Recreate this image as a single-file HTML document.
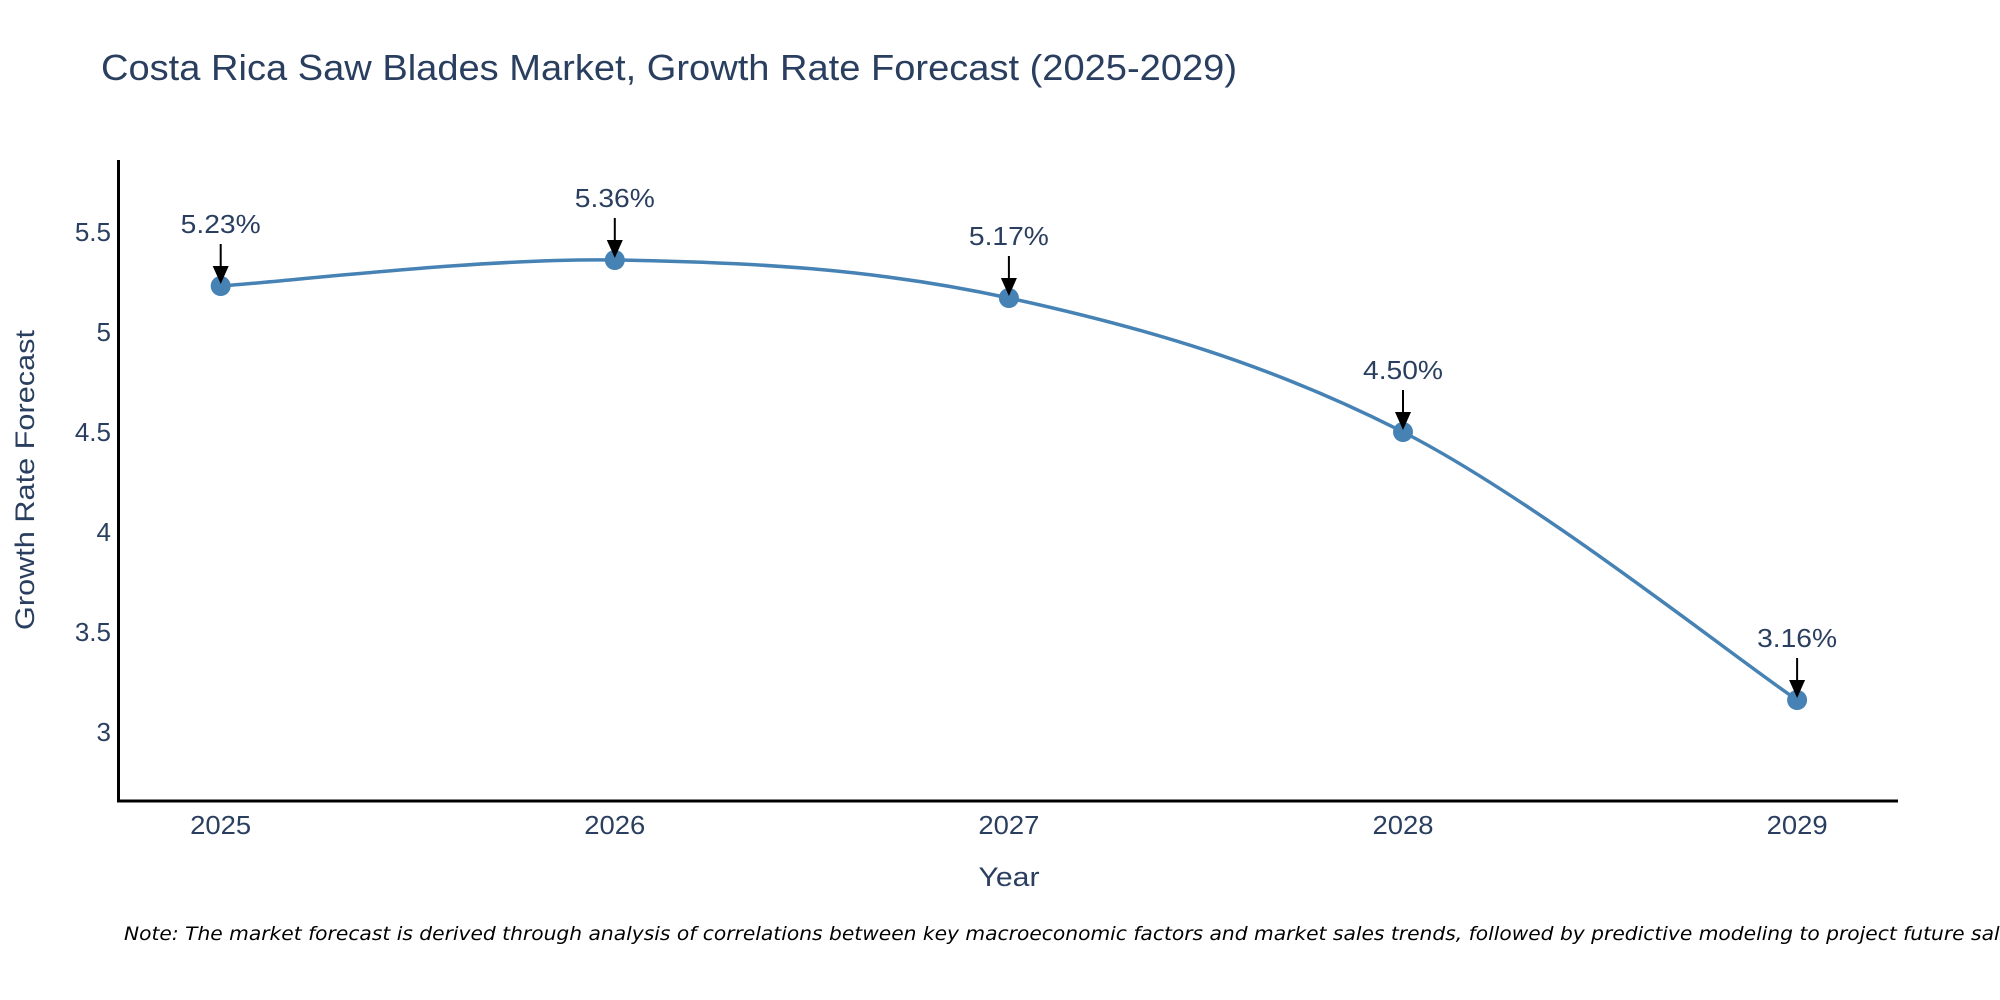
<!DOCTYPE html>
<html><head><meta charset="utf-8"><style>
html,body{margin:0;padding:0;background:#fff;}
svg{display:block;font-family:"Liberation Sans",sans-serif;}
</style></head><body>
<svg id="chart" width="2000" height="1000" viewBox="0 0 2000 1000" xmlns="http://www.w3.org/2000/svg">
<rect width="2000" height="1000" fill="#fff"/>
<text x="101" y="80" font-size="36" fill="#2a3f5f" textLength="1136" lengthAdjust="spacingAndGlyphs">Costa Rica Saw Blades Market, Growth Rate Forecast (2025-2029)</text>
<g id="yticks"></g>
<g id="xticks"></g>
<line x1="118.5" y1="160" x2="118.5" y2="802" stroke="#000" stroke-width="3"/>
<line x1="117" y1="801" x2="1898" y2="801" stroke="#000" stroke-width="3"/>
<text transform="translate(34,480) rotate(-90)" text-anchor="middle" font-size="27" fill="#2a3f5f" textLength="300" lengthAdjust="spacingAndGlyphs">Growth Rate Forecast</text>
<text x="1009" y="886" text-anchor="middle" font-size="27" fill="#2a3f5f" textLength="61" lengthAdjust="spacingAndGlyphs">Year</text>
<path id="line" fill="none" stroke="#4682b4" stroke-width="3.5"/>
<g id="marks"></g>
<g id="annots"></g>
<text x="124" y="940" font-family="'DejaVu Sans',sans-serif" font-style="italic" font-size="19" fill="#000" textLength="1905" lengthAdjust="spacingAndGlyphs">Note: The market forecast is derived through analysis of correlations between key macroeconomic factors and market sales trends, followed by predictive modeling to project future sales.</text>
</svg>
<script>
const years = [2025, 2026, 2027, 2028, 2029];
const growth = [5.23, 5.36, 5.17, 4.50, 3.16];
const yTickValues = [3, 3.5, 4, 4.5, 5, 5.5];
const yTickLabels = ["3", "3.5", "4", "4.5", "5", "5.5"];

const NS = "http://www.w3.org/2000/svg";
function xScale(yr){ return 220.7 + (yr - 2025) * 394.1; }
function yScale(v){ return 732 - (v - 3) * 200; }
function mk(tag, attrs, parent){
  const e = document.createElementNS(NS, tag);
  for (const k in attrs) e.setAttribute(k, attrs[k]);
  parent.appendChild(e);
  return e;
}
const yt = document.getElementById('yticks');
yTickValues.forEach((v, i) => {
  const t = mk('text', {x: 111, y: yScale(v) + 9, 'text-anchor': 'end', 'font-size': 26, fill: '#2a3f5f'}, yt);
  
  
  t.textContent = yTickLabels[i];
});
const xt = document.getElementById('xticks');
years.forEach(yr => {
  const t = mk('text', {x: xScale(yr), y: 834, 'text-anchor': 'middle', 'font-size': 26, fill: '#2a3f5f', textLength: 61, lengthAdjust: 'spacingAndGlyphs'}, xt);
  
  
  t.textContent = String(yr);
});
const pts = years.map((yr, i) => [xScale(yr), yScale(growth[i])]);
let d = 'M' + pts[0][0] + ',' + pts[0][1];
const k = 0.17;
for (let i = 0; i < pts.length - 1; i++) {
  const p0 = pts[Math.max(0, i - 1)], p1 = pts[i], p2 = pts[i + 1], p3 = pts[Math.min(pts.length - 1, i + 2)];
  const c1 = [p1[0] + (p2[0] - p0[0]) * k, p1[1] + (p2[1] - p0[1]) * k];
  const c2 = [p2[0] - (p3[0] - p1[0]) * k, p2[1] - (p3[1] - p1[1]) * k];
  d += ' C' + c1.join(',') + ' ' + c2.join(',') + ' ' + p2.join(',');
}
document.getElementById('line').setAttribute('d', d);
const mg = document.getElementById('marks');
const ag = document.getElementById('annots');
pts.forEach((p, i) => {
  const c = mk('circle', {cx: p[0], cy: p[1], r: 10, fill: '#4682b4'}, mg);
  
  
  const ln = mk('line', {x1: p[0], y1: p[1] - 42, x2: p[0], y2: p[1] - 18, stroke: '#000', 'stroke-width': 2}, ag);
  
  
  const ah = mk('polygon', {points: (p[0]-8)+','+(p[1]-20)+' '+(p[0]+8)+','+(p[1]-20)+' '+p[0]+','+(p[1]-2), fill: '#000'}, ag);
  
  
  const t = mk('text', {x: p[0], y: p[1] - 53, 'text-anchor': 'middle', 'font-size': 26, fill: '#2a3f5f', textLength: 80, lengthAdjust: 'spacingAndGlyphs'}, ag);
  
  
  t.textContent = growth[i].toFixed(2) + '%';
});
</script>
</body></html>
